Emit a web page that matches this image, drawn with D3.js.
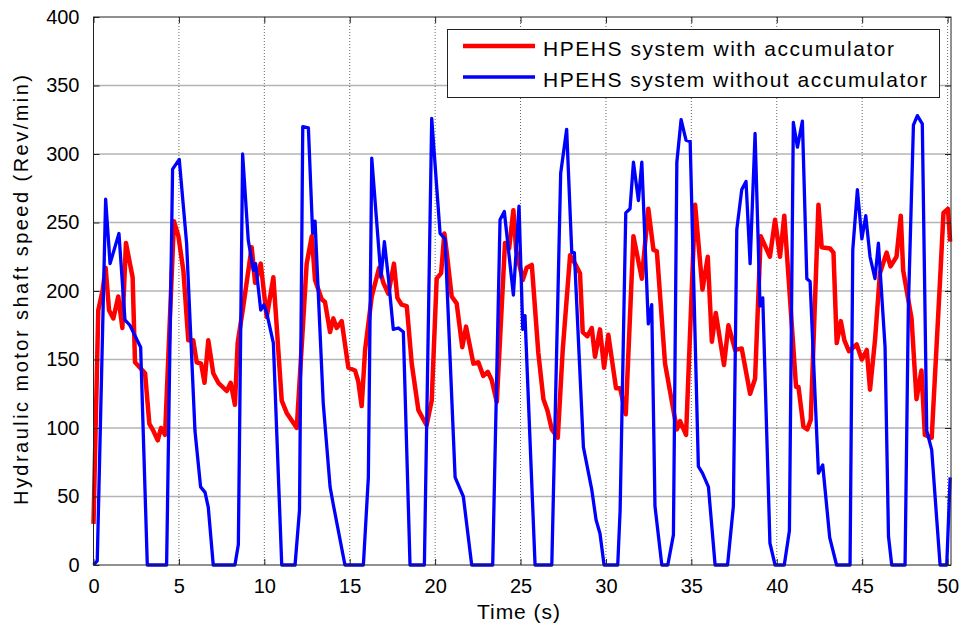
<!DOCTYPE html>
<html>
<head>
<meta charset="utf-8">
<script src="https://cdn.jsdelivr.net/npm/d3@7"></script>
<style>
  html, body { margin: 0; padding: 0; background: #fff; }
  svg { display: block; font-family: "Liberation Sans", Arial, sans-serif; }
</style>
</head>
<body>
<svg id="chart" width="968" height="626"></svg>
<script>
// ---- data ----
const timeRed = [0,0.28,0.54,0.71,0.91,1.16,1.45,1.69,1.9,2.29,2.43,3.02,3.27,3.5,3.76,3.95,4.19,4.71,4.97,5.26,5.55,5.84,6.04,6.3,6.5,6.72,7.01,7.31,7.8,8.03,8.28,8.44,8.77,9.26,9.46,9.79,10.14,10.53,11.02,11.31,11.9,12.48,12.78,12.97,13.36,13.55,13.85,14.04,14.24,14.53,14.92,15.31,15.5,15.7,15.9,16.29,16.72,16.97,17.26,17.59,17.79,18.04,18.34,18.63,19.02,19.5,19.8,20.09,20.35,20.54,20.68,20.97,21.26,21.59,21.81,22.24,22.53,22.82,23.08,23.31,23.61,24.09,24.33,24.58,24.74,25.13,25.36,25.66,26.04,26.34,26.57,26.83,27.18,27.47,27.9,28.19,28.48,28.64,28.91,29.17,29.36,29.65,29.89,30.14,30.59,30.83,31.16,31.61,32.1,32.48,32.78,32.98,33.46,34.15,34.34,34.69,35.22,35.65,35.96,36.2,36.43,36.91,37.17,37.56,37.95,38.44,38.73,39.06,39.6,39.9,40.19,40.44,41.13,41.27,41.56,41.79,41.99,42.44,42.63,43.12,43.32,43.51,43.75,43.96,44.23,44.68,44.98,45.27,45.46,45.75,46.04,46.43,46.66,47.01,47.26,47.4,47.89,48.18,48.47,48.67,49.07,49.56,49.76,50.02,50.15];
const speedRed = [30,186,201,217,186,180,196,173,235,210,148,140,103,98,91,100,95,251,240,215,164,164,148,147,133,164,140,133,127,133,117,162,189,232,206,220,181,210,120,111,100,220,240,208,194,192,170,180,173,178,144,142,134,116,157,196,217,206,198,220,195,190,189,147,113,102,120,209,213,242,228,196,191,159,174,147,148,138,141,135,119,235,231,259,230,208,217,219,155,121,113,99,93,157,226,220,213,170,167,173,152,172,144,168,129,129,110,240,209,260,230,229,147,99,105,95,263,201,225,163,184,146,175,157,158,125,136,240,225,252,225,255,130,130,101,99,106,263,232,231,228,162,178,164,156,161,150,157,128,164,213,228,218,225,255,215,180,121,142,95,93,208,257,260,236];

const timeBlue = [0,0.22,0.71,0.97,1.49,1.84,2.13,2.76,3.15,4.28,4.63,5.02,5.45,5.94,6.27,6.53,6.72,7.01,8.28,8.48,8.73,9.06,9.36,9.49,9.79,9.98,10.14,10.53,11.02,11.8,12.06,12.25,12.58,12.83,12.97,13.45,13.85,14.04,14.72,15.8,16.09,16.29,16.83,17.03,17.26,17.55,17.85,18.14,18.53,19.37,19.8,20.29,20.58,21.17,21.65,22.14,23.37,23.8,24.05,24.58,24.91,25.13,25.26,25.85,26.83,27.35,27.7,28.0,28.15,28.68,29.17,29.42,29.65,29.89,30.69,30.83,31.16,31.41,31.61,31.9,32.1,32.48,32.68,32.87,33.27,33.62,33.95,34.15,34.4,34.69,34.93,35.41,35.65,36.0,36.39,37.12,37.46,37.66,37.95,38.2,38.44,38.73,39.02,39.18,39.6,39.9,40.44,40.74,40.97,41.21,41.5,41.76,41.95,42.44,42.69,43.1,43.5,44.29,44.45,44.72,44.98,45.21,45.46,45.75,45.95,46.34,46.54,46.73,47.51,47.7,48.0,48.23,48.52,48.78,49.07,49.56,49.95,50.15];
const speedBlue = [0,3,267,220,242,179,175,159,0,0,289,296,235,98,57,53,42,0,0,15,300,237,215,220,186,190,184,162,0,0,40,320,319,242,251,118,57,44,0,0,64,297,210,236,210,172,173,170,0,0,326,242,238,64,50,0,0,252,258,197,262,172,182,0,0,286,318,228,228,86,55,33,23,0,0,40,257,260,294,266,294,176,190,43,0,0,22,294,325,310,309,72,67,57,0,0,43,245,274,280,220,315,189,195,16,0,0,25,323,305,324,209,207,67,73,20,0,0,230,274,238,255,225,209,235,159,21,0,0,186,321,328,322,98,84,0,0,64];

const xTicks = [0,5,10,15,20,25,30,35,40,45,50];
const yTicks = [0,50,100,150,200,250,300,350,400];
const seriesNames = ["HPEHS system with accumulator", "HPEHS system without accumulator"];
const seriesColors = ["#ff0000", "#0000ff"];
const xTitle = "Time (s)";
const yTitle = "Hydraulic motor shaft speed (Rev/min)";

// ---- layout ----
const L = 93.5, R = 951, T = 17, B = 565;
const svg = d3.select("#chart");
const x = d3.scaleLinear().domain([0, 50.2]).range([L, R]);
const y = d3.scaleLinear().domain([0, 400]).range([B, T]);

// grid
const grid = svg.append("g");
grid.selectAll("line.hg").data(yTicks.filter(v => v > 0 && v < 400)).join("line")
  .attr("x1", L).attr("x2", R).attr("y1", d => y(d)).attr("y2", d => y(d))
  .attr("stroke", "#b4b4b4").attr("stroke-width", 1.5);
grid.selectAll("line.vg").data(xTicks.filter(v => v > 0)).join("line")
  .attr("x1", d => x(d)).attr("x2", d => x(d)).attr("y1", T).attr("y2", B)
  .attr("stroke", "#666").attr("stroke-width", 1).attr("stroke-dasharray", "1,2");

// lines
const redData = timeRed.map((t, i) => [t, speedRed[i]]);
const blueData = timeBlue.map((t, i) => [t, speedBlue[i]]);
const line = d3.line().x(d => x(d[0])).y(d => y(d[1]));
svg.append("path").datum(redData).attr("d", line).attr("fill", "none")
  .attr("stroke", seriesColors[0]).attr("stroke-width", 4.5).attr("stroke-linejoin", "round");
svg.append("path").datum(blueData).attr("d", line).attr("fill", "none")
  .attr("stroke", seriesColors[1]).attr("stroke-width", 3.3).attr("stroke-linejoin", "round");

// axes (ticks inward on all sides)
const tl = 6;
const axB = d3.axisBottom(x).tickValues(xTicks).tickSize(-tl).tickPadding(14).tickFormat(d3.format("d"));
const axT = d3.axisTop(x).tickValues(xTicks).tickSize(-tl).tickFormat("");
const axLft = d3.axisLeft(y).tickValues(yTicks).tickSize(-tl).tickPadding(14).tickFormat(d3.format("d"));
const axRt = d3.axisRight(y).tickValues(yTicks).tickSize(-tl).tickFormat("");
function style(g) {
  g.select(".domain").remove();
  g.selectAll(".tick line").attr("stroke", "#222");
  g.selectAll(".tick text").attr("fill", "#000").attr("font-size", 20).attr("font-family", "Liberation Sans, Arial, sans-serif");
}
svg.append("g").attr("transform", `translate(0,${B})`).call(axB).call(style);
svg.append("g").attr("transform", `translate(0,${T})`).call(axT).call(style);
svg.append("g").attr("transform", `translate(${L},0)`).call(axLft).call(style);
svg.append("g").attr("transform", `translate(${R},0)`).call(axRt).call(style);

// frame
svg.append("rect").attr("x", L).attr("y", T).attr("width", R - L).attr("height", B - T)
  .attr("fill", "none").attr("stroke", "#222").attr("stroke-width", 1);

// titles
svg.append("text").attr("x", 518.5).attr("y", 619).attr("text-anchor", "middle")
  .attr("font-size", 21).attr("fill", "#000")
  .attr("textLength", 83).attr("lengthAdjust", "spacing").text(xTitle);
svg.append("text").attr("transform", `translate(28,290) rotate(-90)`).attr("text-anchor", "middle")
  .attr("font-size", 20).attr("fill", "#000")
  .attr("textLength", 430).attr("lengthAdjust", "spacing").text(yTitle);

// legend
const lg = svg.append("g");
lg.append("rect").attr("x", 447.5).attr("y", 29.5).attr("width", 492).attr("height", 68)
  .attr("fill", "#fff").attr("stroke", "#222").attr("stroke-width", 1);
const rows = [46, 77];
seriesNames.forEach((name, i) => {
  lg.append("line").attr("x1", 463).attr("x2", 535).attr("y1", rows[i]).attr("y2", rows[i])
    .attr("stroke", seriesColors[i]).attr("stroke-width", i === 0 ? 4.5 : 3.3);
  lg.append("text").attr("x", 543).attr("y", rows[i] + 10).attr("font-size", 21).attr("fill", "#000")
    .attr("textLength", i === 0 ? 351 : 384).attr("lengthAdjust", "spacing").text(name);
});
</script>
</body>
</html>
